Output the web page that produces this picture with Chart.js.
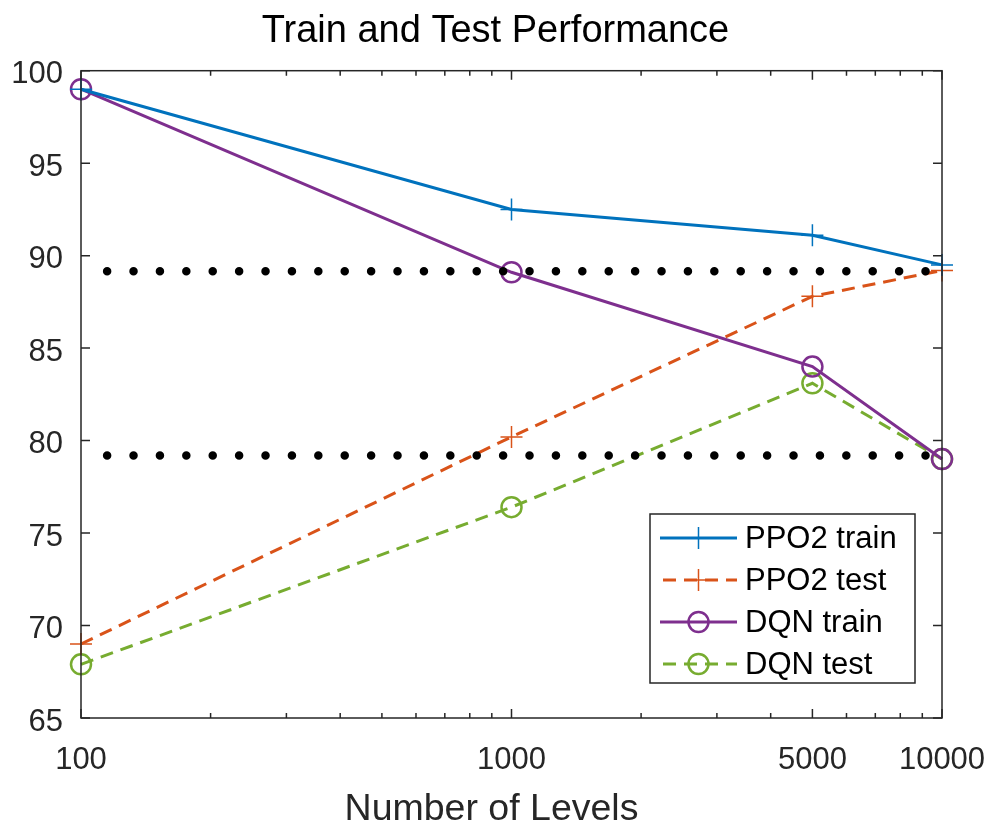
<!DOCTYPE html>
<html>
<head>
<meta charset="utf-8">
<script src="https://cdn.jsdelivr.net/npm/chart.js@4.4.1/dist/chart.umd.min.js"></script>
<style>
  body { margin: 0; background: #fff; }
  #wrap { width: 991px; height: 827px; }
</style>
</head>
<body>
<div id="wrap"><canvas id="myChart"></canvas></div>
<script>
// values
const levels = [100, 1000, 5000, 10000];
const ppo2Train = [99, 92.5, 91.1, 89.5];
const ppo2Test = [69, 80.2, 87.8, 89.2];
const dqnTrain = [99, 89.1, 84, 79];
const dqnTest = [67.9, 76.4, 83.1, 79];

// the two dotted reference lines
const refX = [115, 10000];
const refHigh = [89.15, 89.15];
const refLow = [79.2, 79.2];

const xTicks = [100, 1000, 5000, 10000];
const yTicks = [65, 70, 75, 80, 85, 90, 95, 100];

const axisColor = '#262626';
const fontName = '"Liberation Sans", Arial, Helvetica, sans-serif';

function toPoints(xs, ys) {
    return xs.map((x, i) => ({ x: x, y: ys[i] }));
}

// inside ticks on all four sides + box, like matlab
const boxPlugin = {
    id: 'boxPlugin',
    afterDatasetsDraw(chart) {
        const ctx = chart.ctx;
        const a = chart.chartArea;
        const xs = chart.scales.x;
        const ys = chart.scales.y;
        ctx.save();
        ctx.strokeStyle = axisColor;
        ctx.lineWidth = 1.5;
        ctx.beginPath();
        // major x ticks
        xTicks.forEach(v => {
            const px = xs.getPixelForValue(v);
            ctx.moveTo(px, a.bottom); ctx.lineTo(px, a.bottom - 9);
            ctx.moveTo(px, a.top); ctx.lineTo(px, a.top + 9);
        });
        // minor x ticks (log)
        for (let d = 100; d < 10000; d *= 10) {
            for (let m = 2; m <= 9; m++) {
                const v = d * m;
                if (xTicks.includes(v)) continue;
                const px = xs.getPixelForValue(v);
                ctx.moveTo(px, a.bottom); ctx.lineTo(px, a.bottom - 5);
                ctx.moveTo(px, a.top); ctx.lineTo(px, a.top + 5);
            }
        }
        yTicks.forEach(v => {
            const py = ys.getPixelForValue(v);
            ctx.moveTo(a.left, py); ctx.lineTo(a.left + 9, py);
            ctx.moveTo(a.right, py); ctx.lineTo(a.right - 9, py);
        });
        ctx.stroke();
        ctx.strokeRect(a.left, a.top, a.right - a.left, a.bottom - a.top);
        ctx.restore();
    }
};

// legend box in the lower right, matlab style
const legendPlugin = {
    id: 'legendPlugin',
    afterDraw(chart) {
        const ctx = chart.ctx;
        const a = chart.chartArea;
        const boxW = 265, boxH = 169;
        const bx = a.right - 27 - boxW;
        const by = a.bottom - 35 - boxH;
        ctx.save();
        ctx.fillStyle = '#fff';
        ctx.fillRect(bx, by, boxW, boxH);
        ctx.strokeStyle = axisColor;
        ctx.lineWidth = 1.5;
        ctx.strokeRect(bx, by, boxW, boxH);
        const items = chart.data.datasets.filter(ds => ds.label);
        items.forEach((ds, i) => {
            const cy = by + 24 + i * 42;
            const x0 = bx + 10, x1 = bx + 87;
            ctx.save();
            ctx.strokeStyle = ds.borderColor;
            ctx.lineWidth = ds.borderWidth;
            ctx.setLineDash(ds.borderDash || []);
            ctx.lineDashOffset = -3;
            ctx.beginPath();
            ctx.moveTo(x0, cy); ctx.lineTo(x1, cy);
            ctx.stroke();
            ctx.restore();
            ctx.save();
            ctx.strokeStyle = ds.pointBorderColor;
            ctx.fillStyle = 'rgba(0,0,0,0)';
            ctx.lineWidth = ds.pointBorderWidth;
            Chart.helpers.drawPoint(ctx, {
                pointStyle: ds.pointStyle, rotation: 0,
                radius: ds.pointRadius, borderWidth: ds.pointBorderWidth
            }, (x0 + x1) / 2, cy);
            ctx.restore();
            ctx.fillStyle = '#000';
            ctx.font = '31px ' + fontName;
            ctx.textBaseline = 'middle';
            ctx.textAlign = 'left';
            ctx.fillText(ds.label, bx + 95, cy + 1);
        });
        ctx.restore();
    }
};

const ctx = document.getElementById('myChart').getContext('2d');
const myChart = new Chart(ctx, {
    type: 'line',
    data: {
        datasets: [
            {
                label: 'PPO2 train',
                data: toPoints(levels, ppo2Train),
                borderColor: '#0072BD',
                borderWidth: 3,
                pointStyle: 'cross',
                pointRadius: 11,
                pointBorderWidth: 1.5,
                pointBorderColor: '#0072BD',
                clip: false
            },
            {
                label: 'PPO2 test',
                data: toPoints(levels, ppo2Test),
                borderColor: '#D95319',
                borderWidth: 3,
                borderDash: [13, 8],
                pointStyle: 'cross',
                pointRadius: 11,
                pointBorderWidth: 1.5,
                pointBorderColor: '#D95319',
                clip: false
            },
            {
                label: 'DQN train',
                data: toPoints(levels, dqnTrain),
                borderColor: '#7E2F8E',
                borderWidth: 3,
                pointStyle: 'circle',
                pointRadius: 10,
                pointBorderWidth: 2.5,
                pointBorderColor: '#7E2F8E',
                pointBackgroundColor: 'rgba(0,0,0,0)',
                clip: false
            },
            {
                label: 'DQN test',
                data: toPoints(levels, dqnTest),
                borderColor: '#77AC30',
                borderWidth: 3,
                borderDash: [13, 8],
                pointStyle: 'circle',
                pointRadius: 10,
                pointBorderWidth: 2.5,
                pointBorderColor: '#77AC30',
                pointBackgroundColor: 'rgba(0,0,0,0)',
                clip: false
            },
            {
                data: toPoints(refX, refHigh),
                borderColor: '#000',
                borderWidth: 8.5,
                borderDash: [0, 26.4],
                borderCapStyle: 'round',
                pointRadius: 0,
                order: -1,
                clip: false
            },
            {
                data: toPoints(refX, refLow),
                borderColor: '#000',
                borderWidth: 8.5,
                borderDash: [0, 26.4],
                borderCapStyle: 'round',
                pointRadius: 0,
                order: -1,
                clip: false
            }
        ]
    },
    options: {
        responsive: true,
        maintainAspectRatio: false,
        animation: false,
        layout: { padding: 0 },
        plugins: {
            legend: { display: false },
            tooltip: { enabled: false },
            title: {
                display: true,
                text: 'Train and Test Performance',
                color: '#000',
                font: { family: fontName, size: 38, weight: 'normal', lineHeight: 1.2 },
                padding: { top: 8.8, bottom: 16.3 }
            }
        },
        scales: {
            x: {
                type: 'logarithmic',
                min: 100,
                max: 10000,
                grid: { display: false, drawTicks: false },
                border: { display: false },
                afterBuildTicks: s => { s.ticks = xTicks.map(v => ({ value: v })); },
                afterFit: s => {
                    s.height = 109;
                    s.paddingLeft = 0;
                    s.paddingRight = 49;
                    // xlabel sits a bit left of the axis centre in the original
                    if (!s._shifted) {
                        const orig = s.drawTitle;
                        s.drawTitle = function () {
                            this.ctx.save();
                            this.ctx.translate(-20, 0);
                            orig.call(this);
                            this.ctx.restore();
                        };
                        s._shifted = true;
                    }
                },
                ticks: {
                    autoSkip: false,
                    maxRotation: 0,
                    padding: 24,
                    color: axisColor,
                    font: { family: fontName, size: 31 },
                    callback: v => String(v)
                },
                title: {
                    display: true,
                    text: 'Number of Levels',
                    color: axisColor,
                    font: { family: fontName, size: 37.5, lineHeight: 0.9 },
                    padding: { top: 0, bottom: 0 }
                }
            },
            y: {
                min: 65,
                max: 100,
                grid: { display: false, drawTicks: false },
                border: { display: false },
                afterBuildTicks: s => { s.ticks = yTicks.map(v => ({ value: v })); },
                afterFit: s => { s.width = 81; },
                ticks: {
                    padding: 18,
                    labelOffset: 4,
                    color: axisColor,
                    font: { family: fontName, size: 31 }
                }
            }
        }
    },
    plugins: [boxPlugin, legendPlugin]
});
</script>
</body>
</html>
